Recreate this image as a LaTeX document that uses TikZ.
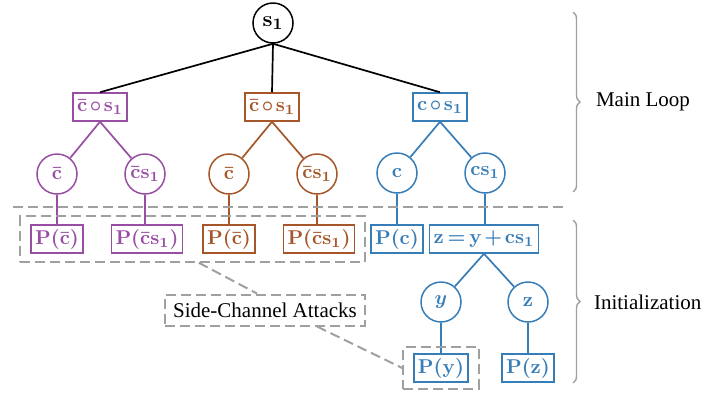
\documentclass[tikz,border=0pt]{standalone}
\usepackage{amsmath}
\usepackage{bm}
\usepackage{fontspec}
\setmainfont{Liberation Serif}
\newfontfamily\notefont{Liberation Serif}
\usepackage{tikz}
\usetikzlibrary{fit}
\usetikzlibrary{decorations.pathreplacing}

\definecolor{setpurple}{HTML}{984EA3}
\definecolor{setbrown}{HTML}{A65628}
\definecolor{setblue}{HTML}{377EB8}
\definecolor{sidegray}{HTML}{A0A0A0}

\newcommand{\treefont}{\boldmath\fontsize{10}{12}\selectfont\medmuskip=2mu\relax\thickmuskip=3mu\relax}

\begin{document}
\begin{tikzpicture}[x=0.5pt, y=-0.5pt,
    lbl/.style={font=\treefont, line width=0.75pt},
    vnode/.style={lbl, circle, draw, minimum size=20pt, inner sep=0pt},
    pnode/.style={lbl, rectangle, draw, minimum height=14pt, inner xsep=2pt, inner ysep=0pt},
    link/.style={line width=0.85pt},
    split/.style={sidegray, dash pattern=on 5pt off 2.5pt, line width=1pt},
    brc/.style={decorate, decoration={brace, amplitude=3.5pt}, sidegray, line width=0.7pt},
    note/.style={font=\notefont\fontsize{10.5}{12}\selectfont}]
    \useasboundingbox (0,0) rectangle (718,392);

    % root
    \node[vnode, font=\treefont\fontsize{11}{13}\selectfont] (s1) at (273,23) {$\mathbf{s}_1$};

    % purple and brown branches
    \foreach \col/\dx/\nm in {setpurple/0/a, setbrown/172/b}
    {
    \node[pnode, color=\col] (\nm-box) at (100+\dx,107) {$\bar{\mathbf{c}}\circ\mathbf{s}_1$};
    \node[vnode, color=\col] (\nm-c) at (57+\dx,174) {$\bar{\mathbf{c}}$};
    \node[vnode, color=\col] (\nm-cs) at (145+\dx,174) {$\bar{\mathbf{c}}\mathbf{s}_1$};
    \node[pnode, color=\col] (\nm-pc) at (57+\dx,239) {$\mathbf{P}(\bar{\mathbf{c}})$};
    \node[pnode, color=\col] (\nm-pcs) at (147+\dx,239) {$\mathbf{P}(\bar{\mathbf{c}}\mathbf{s}_1)$};
    \draw[link] (s1.south) -- (\nm-box.north);
    \draw[link, \col] (\nm-box.south) -- (\nm-c);
    \draw[link, \col] (\nm-box.south) -- (\nm-cs);
    \draw[link, \col] (\nm-c) -- (\nm-pc);
    \draw[link, \col] (\nm-cs) -- (\nm-pcs.north -| \nm-cs);
    }

    % blue branch
    \node[pnode, color=setblue] (c-box) at (440,107) {$\mathbf{c}\circ\mathbf{s}_1$};
    \node[vnode, color=setblue] (c-c) at (397,173) {$\mathbf{c}$};
    \node[vnode, color=setblue] (c-cs) at (485,173) {$\mathbf{c}\mathbf{s}_1$};
    \node[pnode, color=setblue] (c-pc) at (397,239) {$\mathbf{P}(\mathbf{c})$};
    \node[pnode, color=setblue] (zsum) at (484,239) {$\mathbf{z}=\mathbf{y}+\mathbf{c}\mathbf{s}_1$};
    \node[vnode, color=setblue] (y) at (441,302) {$y$};
    \node[vnode, color=setblue] (z) at (528,302) {$\mathbf{z}$};
    \node[pnode, color=setblue] (py) at (441,368) {$\mathbf{P}(\mathbf{y})$};
    \node[pnode, color=setblue] (pz) at (528,368) {$\mathbf{P}(\mathbf{z})$};

    \draw[link] (s1.south) -- (c-box.north);
    \draw[link, setblue] (c-box.south) -- (c-c);
    \draw[link, setblue] (c-box.south) -- (c-cs);
    \draw[link, setblue] (c-c) -- (c-pc);
    \draw[link, setblue] (c-cs) -- (zsum.north -| c-cs);
    \draw[link, setblue] (zsum.south) -- (y);
    \draw[link, setblue] (zsum.south) -- (z);
    \draw[link, setblue] (y) -- (py);
    \draw[link, setblue] (z) -- (pz);

    % split between the two phases
    \draw[split] (13,207) -- (563,207);

    % side-channel leaks
    \node[split, draw, fit=(a-pc) (b-pcs), inner xsep=5pt, inner ysep=4pt] (leak) {};
    \node[split, draw, fit=(py), inner xsep=5pt, inner ysep=3pt] (leaky) {};
    \node[split, draw, text=black, note, minimum height=15.5pt, inner xsep=4pt] (sca) at (265,310) {Side-Channel Attacks};
    \draw[split] ([xshift=3pt]leak.south) -- ([xshift=-4pt]sca.north);
    \draw[split] ([xshift=26pt]sca.south) -- (leaky.west);

    % phases
    \draw[brc] (573,12) -- (573,192);
    \draw[brc] (573,220) -- (573,383);
    \node[anchor=west, note] (mainloop) at (589,102) {Main Loop};
    \node[anchor=west, note] (init) at (587,302) {Initialization};
\end{tikzpicture}
\end{document}
